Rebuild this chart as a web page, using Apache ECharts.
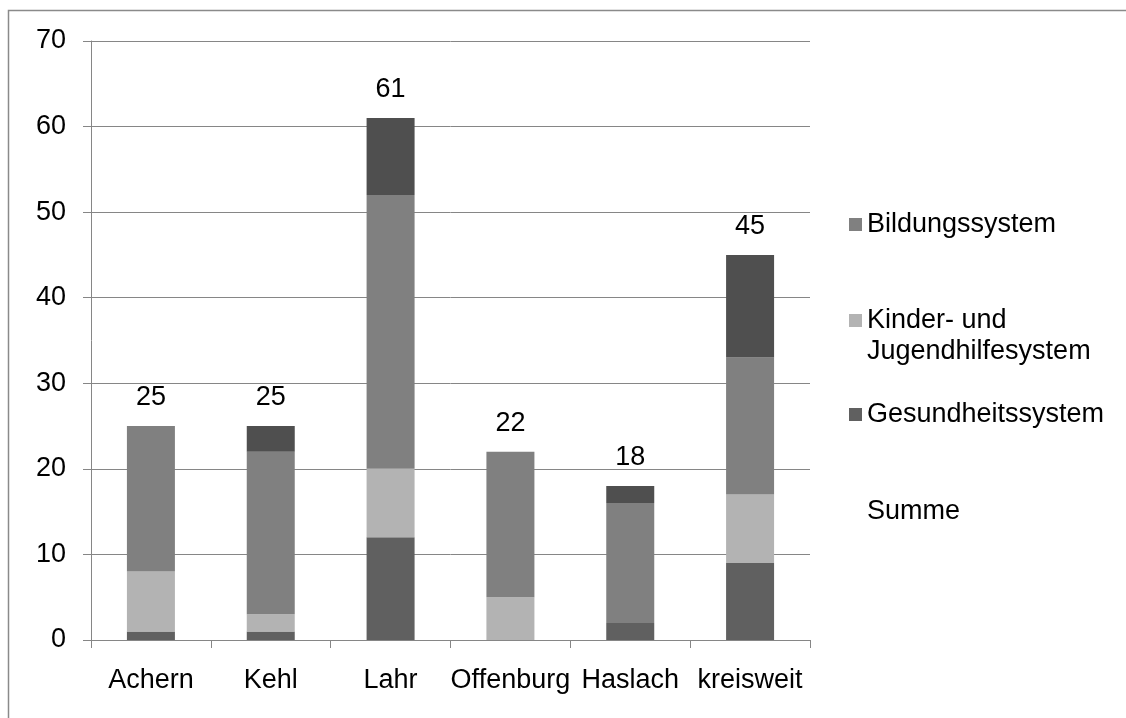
<!DOCTYPE html>
<html>
<head>
<meta charset="utf-8">
<script src="https://cdn.jsdelivr.net/npm/echarts@6/dist/echarts.min.js"></script>
<style>
  html, body { margin: 0; padding: 0; background: #ffffff; }
  #chart { width: 1126px; height: 718px; }
</style>
</head>
<body>
<div id="chart"></div>
<script>
// Regions along the x axis
const categories = ['Achern', 'Kehl', 'Lahr', 'Offenburg', 'Haslach', 'kreisweit'];

// Stacked segments, bottom to top
const gesundheit = [1, 1, 12, 0, 2, 9];
const kinderJugend = [7, 2, 8, 5, 0, 8];
const bildung = [17, 19, 32, 17, 14, 16];
const weitere = [0, 3, 9, 0, 2, 12];

// Totals shown above each column
const summe = [25, 25, 61, 22, 18, 45];

const yTicks = { min: 0, max: 70, interval: 10 };

const FONT = "'Liberation Sans', Arial, sans-serif";
const FONT_SIZE = 27;
const LINE_H = 31;
const GRID_GRAY = '#868686';
const BAR_W = 48;

const chart = echarts.init(document.getElementById('chart'), null, { renderer: 'canvas' });

// One legend block per entry so each can sit at its own height
function legendAt(name, top, formatter) {
  const l = {
    data: [name],
    orient: 'vertical',
    left: 849,
    top: top,
    padding: 0,
    icon: 'rect',
    itemWidth: 13,
    itemHeight: 13,
    selectedMode: false,
    textStyle: {
      fontFamily: FONT,
      fontSize: FONT_SIZE,
      lineHeight: LINE_H,
      color: '#000'
    }
  };
  if (formatter) l.formatter = formatter;
  return l;
}

const option = {
  animation: false,
  backgroundColor: '#ffffff',
  graphic: [{
    type: 'rect',
    shape: { x: 8.5, y: 10.5, width: 1200, height: 800 },
    style: { fill: 'none', stroke: '#8a8a8a', lineWidth: 1.5 },
    silent: true
  }],
  legend: [
    legendAt('Bildungssystem', 209),
    // leading blank line keeps the marker level with the first text line
    legendAt('Kinder- und Jugendhilfesystem', 274, () => '\nKinder- und\nJugendhilfesystem'),
    legendAt('Gesundheitssystem', 399),
    legendAt('Summe', 496)
  ],
  grid: { left: 91, top: 41, width: 719, height: 599, containLabel: false },
  xAxis: {
    type: 'category',
    data: categories,
    axisLine: { lineStyle: { color: GRID_GRAY, width: 1 } },
    axisTick: { show: true, length: 8, alignWithLabel: false, interval: 0, lineStyle: { color: GRID_GRAY } },
    axisLabel: { interval: 0, margin: 27, fontFamily: FONT, fontSize: FONT_SIZE, color: '#000' },
    splitLine: { show: false }
  },
  yAxis: {
    type: 'value',
    min: yTicks.min,
    max: yTicks.max,
    interval: yTicks.interval,
    axisLine: { show: true, lineStyle: { color: GRID_GRAY, width: 1 } },
    axisTick: { show: true, length: 8, lineStyle: { color: GRID_GRAY } },
    axisLabel: { margin: 25, fontFamily: FONT, fontSize: FONT_SIZE, color: '#000' },
    splitLine: { show: true, lineStyle: { color: GRID_GRAY, width: 1 } }
  },
  series: [
    {
      name: 'Gesundheitssystem', type: 'bar', stack: 'total', barWidth: BAR_W,
      data: gesundheit, itemStyle: { color: '#606060' }
    },
    {
      name: 'Kinder- und Jugendhilfesystem', type: 'bar', stack: 'total', barWidth: BAR_W,
      data: kinderJugend, itemStyle: { color: '#b3b3b3' }
    },
    {
      name: 'Bildungssystem', type: 'bar', stack: 'total', barWidth: BAR_W,
      data: bildung, itemStyle: { color: '#808080' }
    },
    {
      name: 'Weitere', type: 'bar', stack: 'total', barWidth: BAR_W,
      data: weitere, itemStyle: { color: '#4f4f4f' }
    },
    {
      name: 'Summe', type: 'bar', barWidth: BAR_W, barGap: '-100%',
      data: summe,
      itemStyle: { color: 'rgba(0,0,0,0)' },
      label: {
        show: true, position: 'top', distance: 15,
        fontFamily: FONT, fontSize: FONT_SIZE, color: '#000'
      },
      z: 1
    }
  ]
};

chart.setOption(option);
</script>
</body>
</html>
